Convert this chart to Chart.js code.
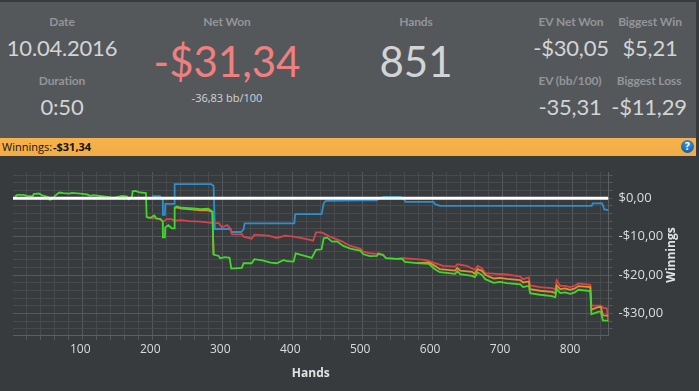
<!DOCTYPE html>
<html>
<head>
<meta charset="utf-8">
<style>
html, body { margin: 0; padding: 0; width: 699px; height: 391px; overflow: hidden; background: #383b3e; }
#panel { position: absolute; left: 0; top: 2px; width: 696px; height: 136px; background: #55585b; }
#bar { position: absolute; left: 0; top: 138px; width: 696px; height: 18px; background: linear-gradient(#f6b24c, #f2ac46); color: #111; font: 11px "Open Sans"; line-height: 17px; }
#bar span { position: absolute; white-space: pre; }
#help { position: absolute; left: 681px; top: 2px; width: 13px; height: 13px; border-radius: 50%; background: radial-gradient(circle at 50% 30%, #3f9be0, #0b4d94); color: #fff; font: bold 10px/13px "Open Sans"; text-align: center; }
.t { position: absolute; transform: translate(-50%, -50%); white-space: nowrap; font-family: Lato; color: #d2d4d5; }
.h { font-size: 12px; color: #939598; font-weight: 700; letter-spacing: -0.1px; }
.m { font-size: 22px; letter-spacing: -0.2px; }
.b { font-size: 42px; }
canvas { position: absolute; left: 0; top: 156px; }
</style>
</head>
<body>
<div id="panel"></div>
<div class="t h" style="left:62px;top:21px">Date</div>
<div class="t m" style="left:62px;top:47px">10.04.2016</div>
<div class="t h" style="left:62px;top:80px">Duration</div>
<div class="t m" style="left:62px;top:106px">0:50</div>
<div class="t h" style="left:227px;top:21px">Net Won</div>
<div class="t b" style="left:227px;top:61px;color:#f07f7f">-$31,34</div>
<div class="t" style="left:227px;top:97px;font:11px 'Open Sans';color:#d2d4d5">-36,83 bb/100</div>
<div class="t h" style="left:416px;top:21px">Hands</div>
<div class="t b" style="left:416px;top:61px">851</div>
<div class="t h" style="left:571px;top:21px">EV Net Won</div>
<div class="t m" style="left:571px;top:47px">-$30,05</div>
<div class="t h" style="left:650px;top:21px">Biggest Win</div>
<div class="t m" style="left:650px;top:47px">$5,21</div>
<div class="t h" style="left:570px;top:80px">EV (bb/100)</div>
<div class="t m" style="left:570px;top:106px">-35,31</div>
<div class="t h" style="left:649px;top:80px">Biggest Loss</div>
<div class="t m" style="left:649px;top:106px">-$11,29</div>
<div id="bar"><span style="left:2px">Winnings:</span><span style="left:53px;font-weight:700">-$31,34</span><div id="help">?</div></div>
<canvas id="chart" width="699" height="235"></canvas>

<script src="https://cdn.jsdelivr.net/npm/chart.js@4"></script>
<script>
// green line - net won
const wonHands = [4,7,16,21,29,30.5,38,42,52,54,58,61,67,73,82,85,97,107,111,116,130,145,157,164,166,171,172,176,182,191,192,197,203,206,212,215,215.2,218,218.6,223,228,231.4,232,235,242,259,269,280,286,287.6,295,297,304,310.5,313,328,330.5,342,346,359,369,378,388,392,402,405,411.5,428,434,442,445,450,457,464,473,483,497,502,511,521,523,530,534,549.5,557,561,578,595,604,611,633,636,640,657,661,665,671,676,688,697,707,726,730,738,740,754,771,776,778,783,790,797,804,809,826,827.6,838,841,844,852];
const wonValues = [0.43,0.86,0.86,0.6,0.43,1.04,1.2,0.78,0.26,-0.43,-0.09,0.6,1.47,1.3,1.2,1.38,1.2,0.95,0.6,0.78,0.43,0.09,0.6,0.43,-0.26,0.26,1.81,1.9,1.47,1.3,-4.92,-5.18,-4.49,-5.27,-5.44,-6.13,-10.19,-10.19,-7.6,-7,-7.86,-7.86,-2.42,-2.16,-2.5,-2.68,-2.85,-2.76,-3.45,-14.7,-15.03,-15.63,-15.37,-15.54,-18.31,-18.13,-16.93,-16.93,-15.89,-16.23,-16.75,-16.93,-16.06,-16.41,-16.49,-14.34,-14.68,-15.54,-13.47,-13.3,-10.45,-10.28,-11.31,-11.23,-12.43,-13.13,-13.64,-14.6,-15.1,-15.03,-14.5,-14.85,-15.63,-15.8,-15.72,-16.58,-16.93,-17.1,-18.48,-19.26,-19.69,-19,-19.78,-20.21,-20.55,-19.34,-19.95,-21.07,-22.02,-21.76,-22.11,-22.45,-23.14,-22.8,-24.7,-25.13,-25.47,-25.73,-23.57,-24.7,-24.52,-24.87,-24.52,-23.83,-24.18,-30.22,-29.53,-29.53,-31.78,-31.87];

// orange line - all-in EV, sits under the green one where it isn't drawn here
const evHands = [232,235,242,259,269,280,286,287.6,290,578,595,604,611,633,636,640,657,661,665,671,676,688,697,707,726,730,738,740,754,771,776,778,783,790,797,804,809,826,827.6,838,841,844,852];
const evValues = [-2.6,-2.4,-2.75,-3,-3.2,-3.2,-3.6,-14.6,null,-16.93,-16.75,-17.62,-18.48,-18.83,-18.13,-18.83,-19.17,-19.69,-18.48,-18.91,-19.95,-20.9,-20.72,-20.98,-21.33,-21.94,-21.68,-23.66,-24.09,-24.4,-24.7,-22.71,-23.66,-23.49,-23.83,-23.49,-22.88,-23.14,-29.02,-28.32,-28.32,-30.48,-30.57];

// red line
const redHands = [192,211,215,221,228,231,242,252,269,288,295,299.5,307,311,314,326,328,330.5,342,346,366,378,390,402,421,430,434,442,454,471,483,497,502,511,521,523,530,534,549.5,559,576,590,604,616,633,636,649.5,661,665,671,676,692,707,726,730,738,740,754,771,776,778,783,790,797,804,809,826,827.6,841,845,849.5,851.5];
const redValues = [-4.92,-5.44,-6.13,-5.44,-5.44,-5.87,-5.7,-5.96,-6.13,-6.48,-6.48,-7.6,-7,-7.77,-9.4,-9.41,-9.33,-10.02,-10.54,-9.5,-9.76,-10.36,-9.76,-10.02,-10.63,-11.05,-8.9,-8.9,-10.02,-11.23,-12.44,-13.13,-13.9,-14.34,-14.51,-14.34,-14.68,-15.63,-15.8,-15.63,-15.89,-16.06,-16.93,-17.63,-17.8,-17.2,-17.63,-18.65,-17.63,-18.22,-19.52,-19.69,-19.86,-20.38,-21.07,-20.64,-22.71,-23.14,-23.4,-23.66,-21.42,-22.8,-22.8,-23.14,-22.8,-22.19,-22.54,-27.98,-27.98,-28.58,-28.6,-31.9];

// blue line
const blueHands = [1,200,201,211,215,215.2,218,218.6,231.4,232,284,287.6,289.5,312,313,327,330.5,332,403,404.3,442,445,448,497,521,523,531,555,560,562,602,604,611,783,828,829.5,843,846,852];
const blueValues = [0,0,0.52,0.52,-0.43,-4.32,-4.32,-1.47,-1.47,3.63,3.63,3.2,-8.03,-8.03,-8.81,-8.81,-8.12,-6.56,-6.56,-4.15,-4.15,-1.38,-0.69,-0.6,-0.6,-0.26,0.35,0.35,-0.35,-0.95,-0.95,-1.55,-1.99,-1.99,-1.99,-1.38,-1.38,-2.94,-3.11];

// white line - flat at zero
const whiteHands = [1,852];
const whiteValues = [0,0];

function pts(hands, values) {
    return hands.map((h, i) => ({ x: h, y: values[i] }));
}

const leftTitle = {
    id: 'winningsTitle',
    afterDraw(chart) {
        const c = chart.ctx;
        c.save();
        c.translate(672, chart.scales.y.getPixelForValue(-14.8));
        c.rotate(-Math.PI / 2);
        c.font = 'bold 12px "Open Sans"';
        c.fillStyle = '#e2e2e2';
        c.textAlign = 'center';
        c.textBaseline = 'middle';
        c.fillText('Winnings', 0, 0);
        c.restore();
    }
};

const ctx = document.getElementById('chart').getContext('2d');
const winningsChart = new Chart(ctx, {
    type: 'line',
    data: {
        datasets: [
            { label: 'White', data: pts(whiteHands, whiteValues), borderColor: '#ffffff', borderWidth: 3, order: 1 },
            { label: 'Won', data: pts(wonHands, wonValues), borderColor: '#41d82c', borderWidth: 1.8, order: 2 },
            { label: 'EV', data: pts(evHands, evValues), borderColor: '#e0902c', borderWidth: 1.8, order: 3 },
            { label: 'Red', data: pts(redHands, redValues), borderColor: '#d8434a', borderWidth: 1.8, order: 4 },
            { label: 'Blue', data: pts(blueHands, blueValues), borderColor: '#2f8fcc', borderWidth: 1.8, order: 5 }
        ]
    },
    options: {
        responsive: false,
        animation: false,
        parsing: false,
        elements: { point: { radius: 0 }, line: { tension: 0, borderJoinStyle: 'miter' } },
        layout: { padding: { left: 13, top: 16, right: 0, bottom: 8 } },
        plugins: { legend: { display: false }, tooltip: { enabled: false } },
        scales: {
            x: {
                type: 'linear',
                min: 1,
                max: 852,
                afterFit: (s) => { s.height = 48; },
                border: { color: '#5d6063' },
                grid: {
                    color: (c) => (c.tick && c.tick.value % 100 === 0 ? '#56595c' : '#484b4e'),
                    tickColor: '#55585b',
                    tickLength: 5
                },
                ticks: {
                    stepSize: 20,
                    includeBounds: false,
                    autoSkip: false,
                    maxRotation: 0,
                    padding: 2,
                    labelOffset: -2,
                    color: '#dcdcdc',
                    font: { family: 'Open Sans', size: 12 },
                    callback: (v) => (v % 100 === 0 ? String(v) : '')
                },
                title: {
                    display: true,
                    text: 'Hands',
                    color: '#e2e2e2',
                    padding: { top: 4, bottom: 2 },
                    font: { family: 'Open Sans', size: 12, weight: 'bold' }
                }
            },
            y: {
                position: 'right',
                min: -35.6,
                max: 6.8,
                afterFit: (s) => { s.width = 90.5; },
                border: { color: '#5d6063' },
                grid: {
                    color: (c) => (c.tick && c.tick.value % 10 === 0 ? '#56595c' : '#484b4e'),
                    tickColor: '#55585b',
                    tickLength: 4
                },
                ticks: {
                    stepSize: 2,
                    includeBounds: false,
                    autoSkip: false,
                    padding: 6,
                    color: '#dcdcdc',
                    font: { family: 'Open Sans', size: 13 },
                    callback: (v) => {
                        if (v % 10 !== 0) return '';
                        return (v < 0 ? '-$' : '$') + Math.abs(v).toFixed(2).replace('.', ',');
                    }
                }
            }
        }
    },
    plugins: [leftTitle]
});
</script>
</body>
</html>
